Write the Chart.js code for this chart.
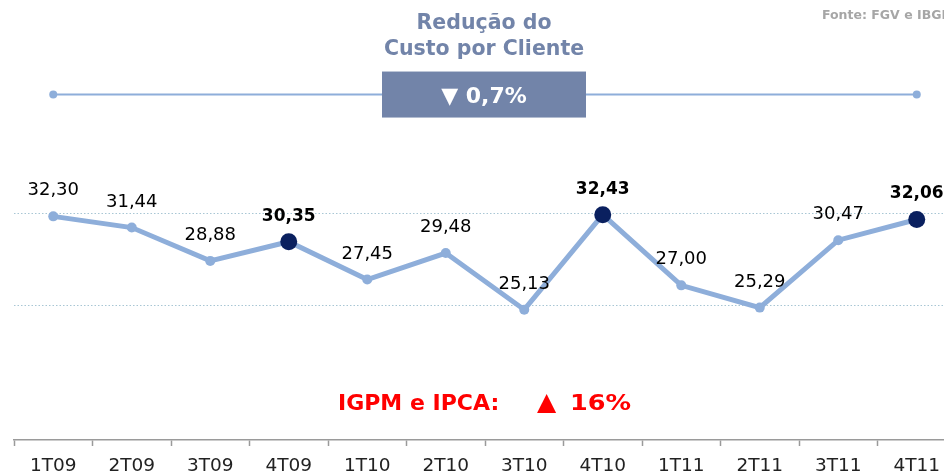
<!DOCTYPE html>
<html><head><meta charset="utf-8">
<script src="https://cdn.jsdelivr.net/npm/chart.js@4/dist/chart.umd.min.js"></script>
<style>
html,body{margin:0;padding:0;overflow:hidden;background:#fff;width:944px;height:474px}
#wrap{position:relative;width:944px;height:474px;overflow:hidden}
</style>
</head><body>
<div id="wrap"><canvas id="c" width="970" height="486"></canvas></div>
<script>
const categories = ['1T09','2T09','3T09','4T09','1T10','2T10','3T10','4T10','1T11','2T11','3T11','4T11'];
const custoPorCliente = [32.30,31.44,28.88,30.35,27.45,29.48,25.13,32.43,27.00,25.29,30.47,32.06];
const destaque = ['4T09','4T10','4T11'];
const linhaReferencia = [41.66,null,null,null,null,null,null,null,null,null,null,41.66];
const gridValues = [25.5, 32.58];
const yMin = 15.12, yMax = 48.27;
const tituloLinhas = ['Redução do','Custo por Cliente'];
const reducaoTexto = '▼ 0,7%';
const inflacaoPartes = ['IGPM e IPCA:', '▲', '16%'];
const fonteTexto = 'Fonte: FGV e IBGE';

const FONT = "'DejaVu Sans', sans-serif";
const LINE = '#8EAEDA';
const DARK = '#0A205F';
const SLATE = '#7284A9';

const isHi = categories.map(c => destaque.includes(c));

const decor = {
  id: 'decor',
  beforeDatasetsDraw(chart) {
    const {ctx, chartArea, scales} = chart;
    ctx.save();
    ctx.strokeStyle = '#A8C6D4';
    ctx.lineWidth = 1;
    ctx.setLineDash([1.5, 2]);
    gridValues.forEach(v => {
      const y = Math.round(scales.y.getPixelForValue(v)) + 0.5;
      ctx.beginPath();
      ctx.moveTo(chartArea.left, y);
      ctx.lineTo(chart.width, y);
      ctx.stroke();
    });
    ctx.restore();
  },
  afterDatasetsDraw(chart) {
    const {ctx, chartArea, scales} = chart;
    const meta = chart.getDatasetMeta(0);
    ctx.save();
    ctx.textAlign = 'center';
    ctx.textBaseline = 'alphabetic';
    meta.data.forEach((pt, i) => {
      ctx.fillStyle = '#000';
      ctx.font = (isHi[i] ? 'bold 17px ' : '18px ') + FONT;
      const txt = custoPorCliente[i].toFixed(2).replace('.', ',');
      ctx.fillText(txt, pt.x, pt.y - 21);
    });
    const cx = (chartArea.left + chartArea.right) / 2 - 1;
    const ly = scales.y.getPixelForValue(linhaReferencia[0]);
    ctx.fillStyle = SLATE;
    ctx.fillRect(cx - 102, ly - 23, 204, 46);
    ctx.fillStyle = '#fff';
    ctx.font = 'bold 22px ' + FONT;
    ctx.fillText(reducaoTexto, cx, ly + 8);
    ctx.fillStyle = SLATE;
    ctx.font = 'bold 20.5px ' + FONT;
    ctx.fillText(tituloLinhas[0], cx, 29);
    ctx.fillText(tituloLinhas[1], cx, 55);
    // inflation note
    ctx.fillStyle = '#FF0000';
    ctx.textAlign = 'left';
    ctx.font = 'bold 22px ' + FONT;
    ctx.fillText(inflacaoPartes[0], cx - 146, 410);
    ctx.font = 'bold 25px ' + FONT;
    ctx.fillText(inflacaoPartes[1], cx + 53, 410);
    ctx.save();
    ctx.translate(cx + 86, 410);
    ctx.scale(1.16, 1);
    ctx.font = 'bold 22px ' + FONT;
    ctx.fillText(inflacaoPartes[2], 0, 0);
    ctx.restore();
    ctx.fillStyle = '#A6A6A6';
    ctx.font = 'bold 12.5px ' + FONT;
    ctx.fillText(fonteTexto, 822, 19);
    ctx.restore();
  }
};

new Chart(document.getElementById('c'), {
  type: 'line',
  data: {
    labels: categories,
    datasets: [{
      data: custoPorCliente,
      borderColor: LINE,
      borderWidth: 5,
      pointRadius: isHi.map(h => h ? 8.5 : 5),
      pointBackgroundColor: isHi.map(h => h ? DARK : LINE),
      pointBorderWidth: 0,
      tension: 0,
      clip: false
    }, {
      data: linhaReferencia,
      borderColor: LINE,
      borderWidth: 2,
      pointRadius: 4,
      pointBackgroundColor: LINE,
      pointBorderWidth: 0,
      spanGaps: true,
      clip: false
    }]
  },
  options: {
    responsive: false,
    animation: false,
    devicePixelRatio: 1,
    layout: { padding: { left: 14, right: 14, top: 0, bottom: 0 } },
    plugins: { legend: { display: false }, tooltip: { enabled: false }, title: { display: false } },
    scales: {
      x: {
        type: 'category',
        offset: true,
        grid: { offset: true, drawOnChartArea: false, drawTicks: true, tickLength: 6, tickColor: '#9A9A9A', tickWidth: 1.5 },
        border: { color: '#9A9A9A', width: 1.5 },
        ticks: { color: '#222', font: { family: FONT, size: 18.5, lineHeight: 20/18.5 }, padding: 10, maxRotation: 0, autoSkip: false }
      },
      y: { display: false, min: yMin, max: yMax }
    }
  },
  plugins: [decor]
});
</script>
</body></html>
